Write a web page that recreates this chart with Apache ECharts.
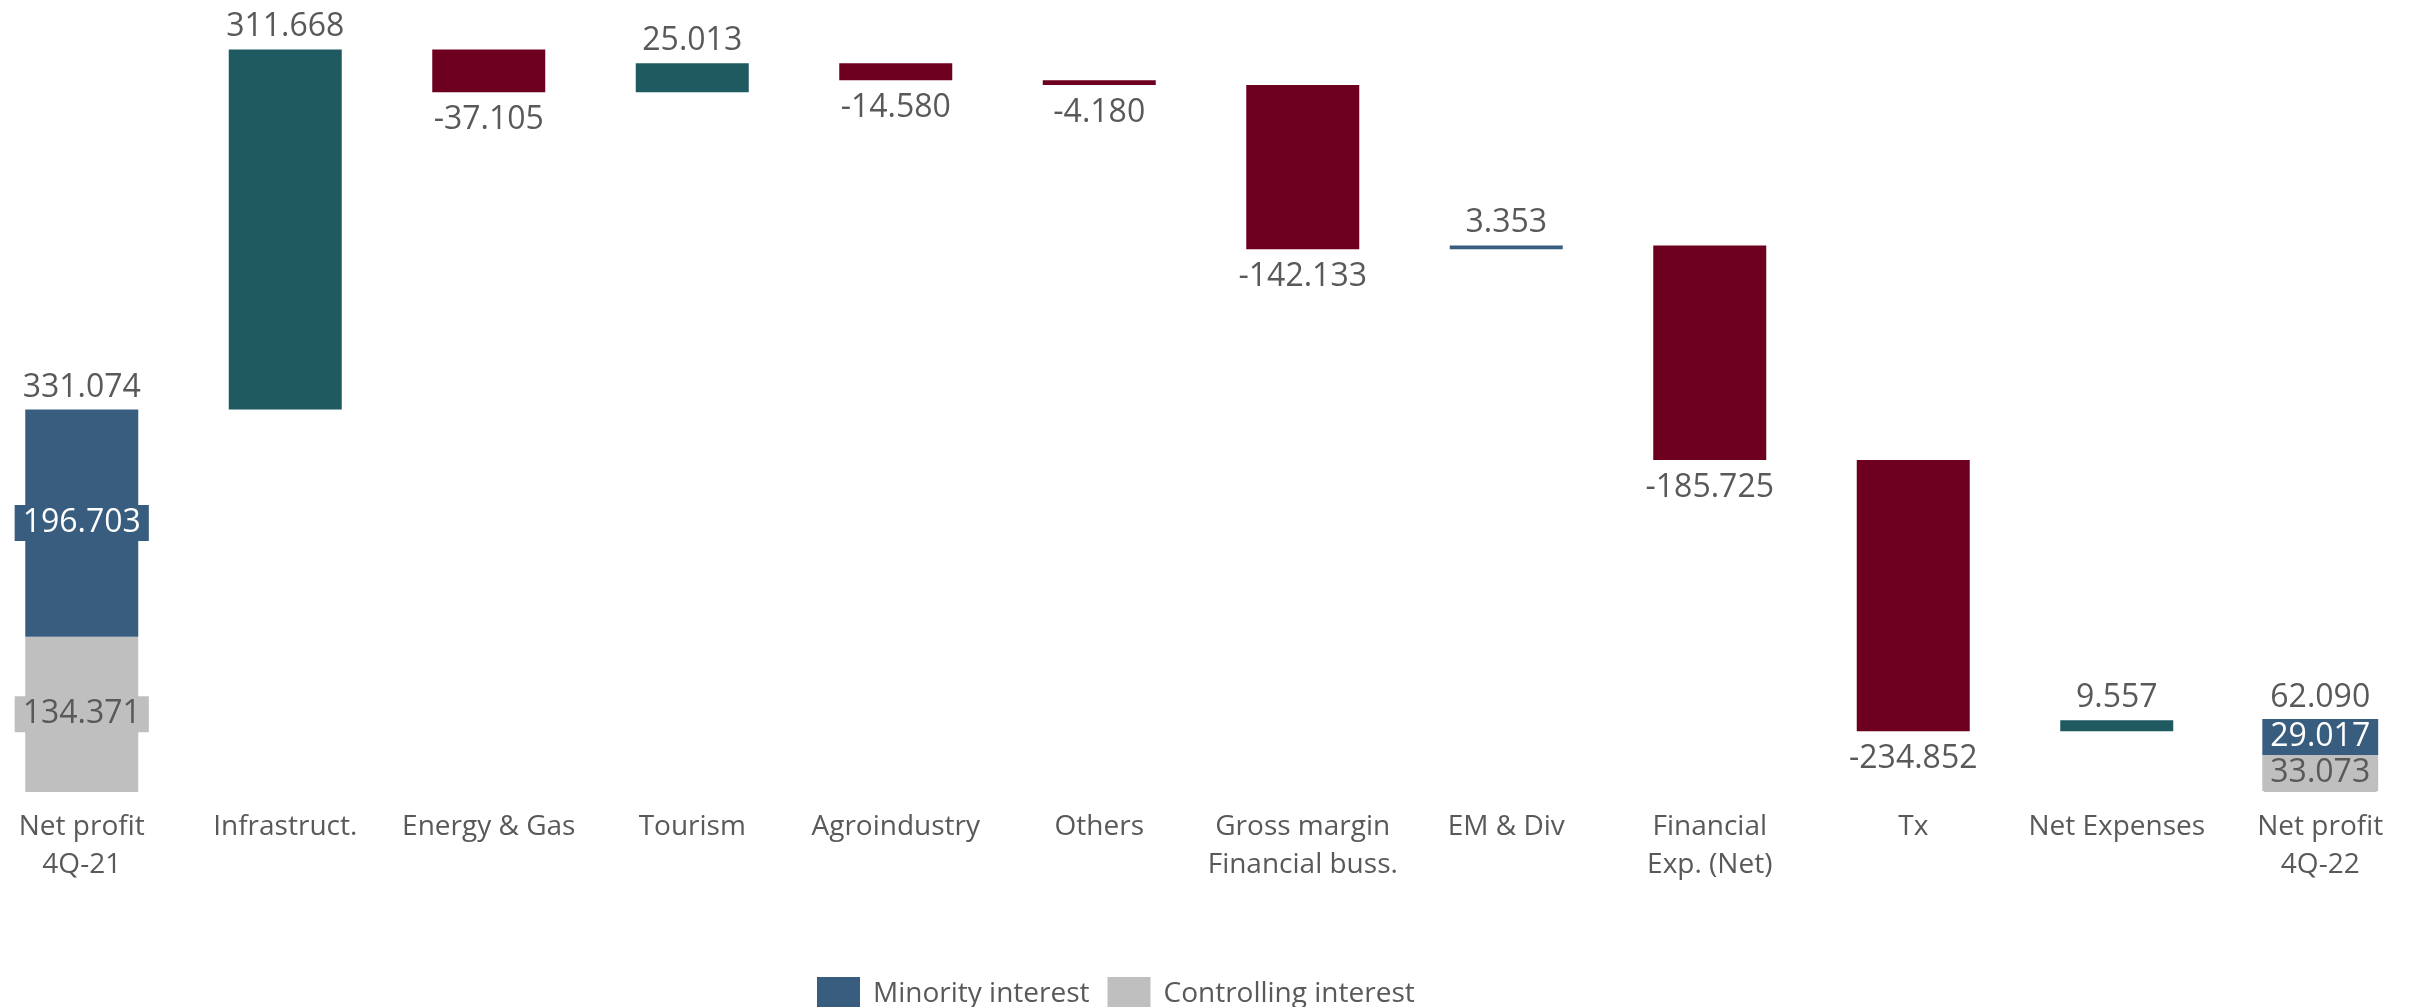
<!DOCTYPE html>
<html>
<head>
<meta charset="utf-8">
<title>Net profit bridge 4Q-21 to 4Q-22</title>
<script src="https://cdn.jsdelivr.net/npm/echarts@6/dist/echarts.min.js"></script>
<style>
  html, body { margin: 0; padding: 0; background: #ffffff; }
  #chart { width: 2415px; height: 1007px; }
</style>
</head>
<body>
<div id="chart"></div>
<script>
// Categories along the bridge
const categories = [
  'Net profit\n4Q-21', 'Infrastruct.', 'Energy & Gas', 'Tourism', 'Agroindustry',
  'Others', 'Gross margin\nFinancial buss.', 'EM & Div', 'Financial\nExp. (Net)',
  'Tx', 'Net Expenses', 'Net profit\n4Q-22'
];

// Opening and closing totals, split by interest
const minorityTotals = [196.703, 29.017];
const controllingTotals = [134.371, 33.073];

// Variations between the two totals (categories 1..10)
const changes = [311.668, -37.105, 25.013, -14.580, -4.180, -142.133, 3.353, -185.725, -234.852, 9.557];

// Legend names
const legendNames = ['Minority interest', 'Controlling interest'];

// ---- styling ----
const BLUE = '#385d7f';
const GREY = '#bfbfbf';
const TEAL = '#1e5a60';
const RED = '#6e001f';
const TEXT = '#595959';
const FONT = 'Open Sans';
const VALUE_SIZE = 32;
const accentColor = { 'EM & Div': BLUE };

const fmt = v => v.toFixed(3);
const last = categories.length - 1;

// Build stacked series: invisible base + rising / falling segments
const base = [], rise = [], fall = [], minority = [], controlling = [], totals = [];
let running = minorityTotals[0] + controllingTotals[0];
categories.forEach((c, i) => {
  if (i === 0 || i === last) {
    const k = i === 0 ? 0 : 1;
    base.push('-'); rise.push('-'); fall.push('-');
    minority.push(minorityTotals[k]);
    controlling.push(controllingTotals[k]);
    totals.push(minorityTotals[k] + controllingTotals[k]);
    return;
  }
  const d = changes[i - 1];
  const next = running + d;
  base.push(Math.min(running, next));
  minority.push('-'); controlling.push('-'); totals.push('-');
  if (d >= 0) {
    const col = accentColor[c];
    rise.push(col ? { value: d, itemStyle: { color: col } } : d);
    fall.push('-');
  } else {
    rise.push('-');
    fall.push(-d);
  }
  running = next;
});

const valueLabel = {
  fontFamily: FONT, fontSize: VALUE_SIZE, color: TEXT
};

const chart = echarts.init(document.getElementById('chart'));
chart.setOption({
  animation: false,
  backgroundColor: '#ffffff',
  grid: {
    left: -20, width: 2442, top: 41, bottom: 215,
    containLabel: false, outerBoundsMode: 'none'
  },
  legend: {
    data: legendNames,
    left: 812, top: 972,
    itemWidth: 43, itemHeight: 34, itemGap: 18,
    icon: 'rect',
    textStyle: { fontFamily: FONT, fontSize: 28, color: TEXT, padding: [0, 0, 0, 8] }
  },
  xAxis: {
    type: 'category',
    data: categories,
    axisLine: { show: false },
    axisTick: { show: false },
    axisLabel: {
      interval: 0, margin: 16,
      fontFamily: FONT, fontSize: 28, color: TEXT, lineHeight: 38
    }
  },
  yAxis: {
    type: 'value', min: 0, max: 650,
    show: false,
    splitLine: { show: false }
  },
  series: [
    {
      name: 'base', type: 'bar', stack: 'bridge', data: base,
      barWidth: 113, silent: true,
      itemStyle: { color: 'transparent' }
    },
    {
      name: legendNames[1], type: 'bar', stack: 'bridge', data: controlling,
      barWidth: 113,
      itemStyle: { color: GREY },
      label: {
        show: true, position: 'inside', formatter: p => fmt(p.value),
        ...valueLabel, color: TEXT, backgroundColor: GREY, padding: [0, 8], lineHeight: 36
      }
    },
    {
      name: legendNames[0], type: 'bar', stack: 'bridge', data: minority,
      barWidth: 113,
      itemStyle: { color: BLUE },
      label: {
        show: true, position: 'inside', formatter: p => fmt(p.value),
        ...valueLabel, color: '#ffffff', backgroundColor: BLUE, padding: [0, 8], lineHeight: 36
      }
    },
    {
      name: 'rise', type: 'bar', stack: 'bridge', data: rise,
      barWidth: 113,
      itemStyle: { color: TEAL },
      label: {
        show: true, position: 'top', distance: 6,
        formatter: p => fmt(p.value), ...valueLabel
      }
    },
    {
      name: 'fall', type: 'bar', stack: 'bridge', data: fall,
      barWidth: 113,
      itemStyle: { color: RED },
      label: {
        show: true, position: 'bottom', distance: 12,
        formatter: p => '-' + fmt(p.value), ...valueLabel
      }
    },
    {
      name: 'total', type: 'scatter', data: totals,
      symbolSize: 0, silent: true,
      itemStyle: { opacity: 1 },
      label: {
        show: true, position: 'top', distance: 6,
        formatter: p => fmt(p.value), ...valueLabel
      }
    }
  ]
});
</script>
</body>
</html>
